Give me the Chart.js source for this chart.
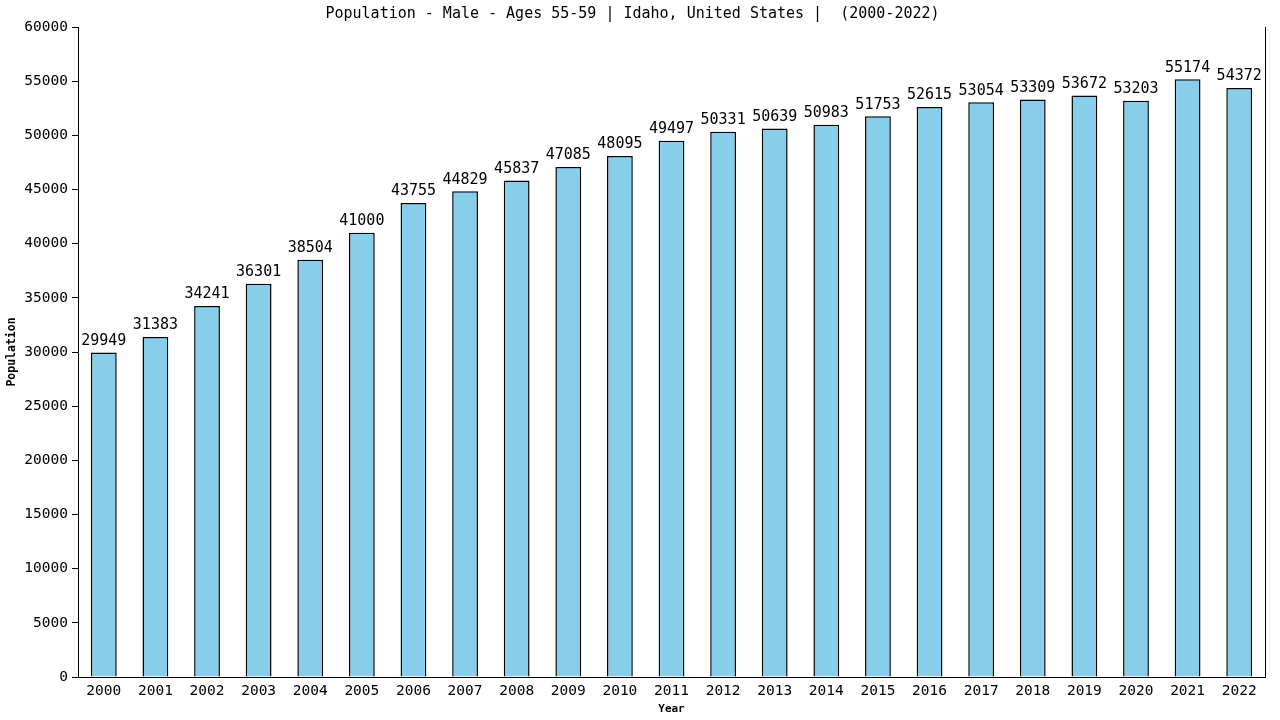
<!DOCTYPE html>
<html>
<head>
<meta charset="utf-8">
<script src="https://cdn.jsdelivr.net/npm/chart.js@4/dist/chart.umd.min.js"></script>
<style>
  html, body { margin: 0; padding: 0; background: #fff; }
  #wrap { width: 1280px; height: 720px; }
</style>
</head>
<body>
<div id="wrap"><canvas id="chart"></canvas></div>
<script>
"use strict";

const years = ['2000','2001','2002','2003','2004','2005','2006','2007','2008','2009','2010','2011',
               '2012','2013','2014','2015','2016','2017','2018','2019','2020','2021','2022'];
const population = [29949, 31383, 34241, 36301, 38504, 41000, 43755, 44829, 45837, 47085, 48095, 49497,
                    50331, 50639, 50983, 51753, 52615, 53054, 53309, 53672, 53203, 55174, 54372];
const yMax = 60000;
const yStep = 5000;

const MONO = '"DejaVu Sans Mono", "Liberation Mono", monospace';

// value labels over each bar + right frame line
const barLabels = {
    id: 'barLabels',
    afterDatasetsDraw(chart) {
        const ctx = chart.ctx;
        const meta = chart.getDatasetMeta(0);
        ctx.save();
        ctx.font = '15px ' + MONO;
        ctx.fillStyle = '#000';
        ctx.textAlign = 'center';
        ctx.textBaseline = 'bottom';
        meta.data.forEach(function(bar, i) {
            ctx.fillText(String(population[i]), bar.x, bar.y - 4);
        });
        // right edge of the plot frame
        const a = chart.chartArea;
        ctx.strokeStyle = '#000';
        ctx.lineWidth = 1;
        ctx.beginPath();
        ctx.moveTo(Math.round(a.right) + 0.5, a.top);
        ctx.lineTo(Math.round(a.right) + 0.5, a.bottom);
        ctx.stroke();
        ctx.restore();
    }
};

new Chart(document.getElementById('chart'), {
    type: 'bar',
    data: {
        labels: years,
        datasets: [{
            data: population,
            backgroundColor: '#87CEEB',
            borderColor: '#000',
            borderWidth: 1.5,
            categoryPercentage: 1.0,
            barPercentage: 0.5
        }]
    },
    options: {
        responsive: true,
        maintainAspectRatio: false,
        animation: false,
        layout: { padding: { left: 0, right: 15, top: 0, bottom: 0 } },
        plugins: {
            legend: { display: false },
            tooltip: { enabled: false },
            title: {
                display: true,
                text: 'Population - Male - Ages 55-59 | Idaho, United States |  (2000-2022)',
                color: '#000',
                font: { family: MONO, size: 15, weight: 'normal', lineHeight: 1 },
                padding: { top: 7, bottom: 5 }
            }
        },
        scales: {
            x: {
                grid: { display: false, drawTicks: false },
                border: { display: true, color: '#000', width: 1 },
                ticks: {
                    color: '#000',
                    font: { family: MONO, size: 14.5 },
                    padding: 6,
                    maxRotation: 0,
                    autoSkip: false
                },
                title: {
                    display: true,
                    text: 'Year',
                    color: '#000',
                    font: { family: MONO, size: 11, weight: 'bold' },
                    padding: { top: 2, bottom: 4 }
                },
                afterFit(scale) { scale.height = 43; }
            },
            y: {
                min: 0,
                max: yMax,
                grid: { display: true, drawOnChartArea: false, drawTicks: true, tickLength: 6, color: '#000' },
                border: { display: true, color: '#000', width: 1 },
                ticks: {
                    stepSize: yStep,
                    color: '#000',
                    font: { family: MONO, size: 14.5 },
                    padding: 4,
                    callback: function(value) { return String(value); }
                },
                title: {
                    display: true,
                    text: 'Population',
                    color: '#000',
                    font: { family: MONO, size: 11.5, weight: 'bold' },
                    padding: { top: 5, bottom: 0 }
                },
                afterFit(scale) { scale.width = 78; }
            }
        }
    },
    plugins: [barLabels]
});
</script>
</body>
</html>
